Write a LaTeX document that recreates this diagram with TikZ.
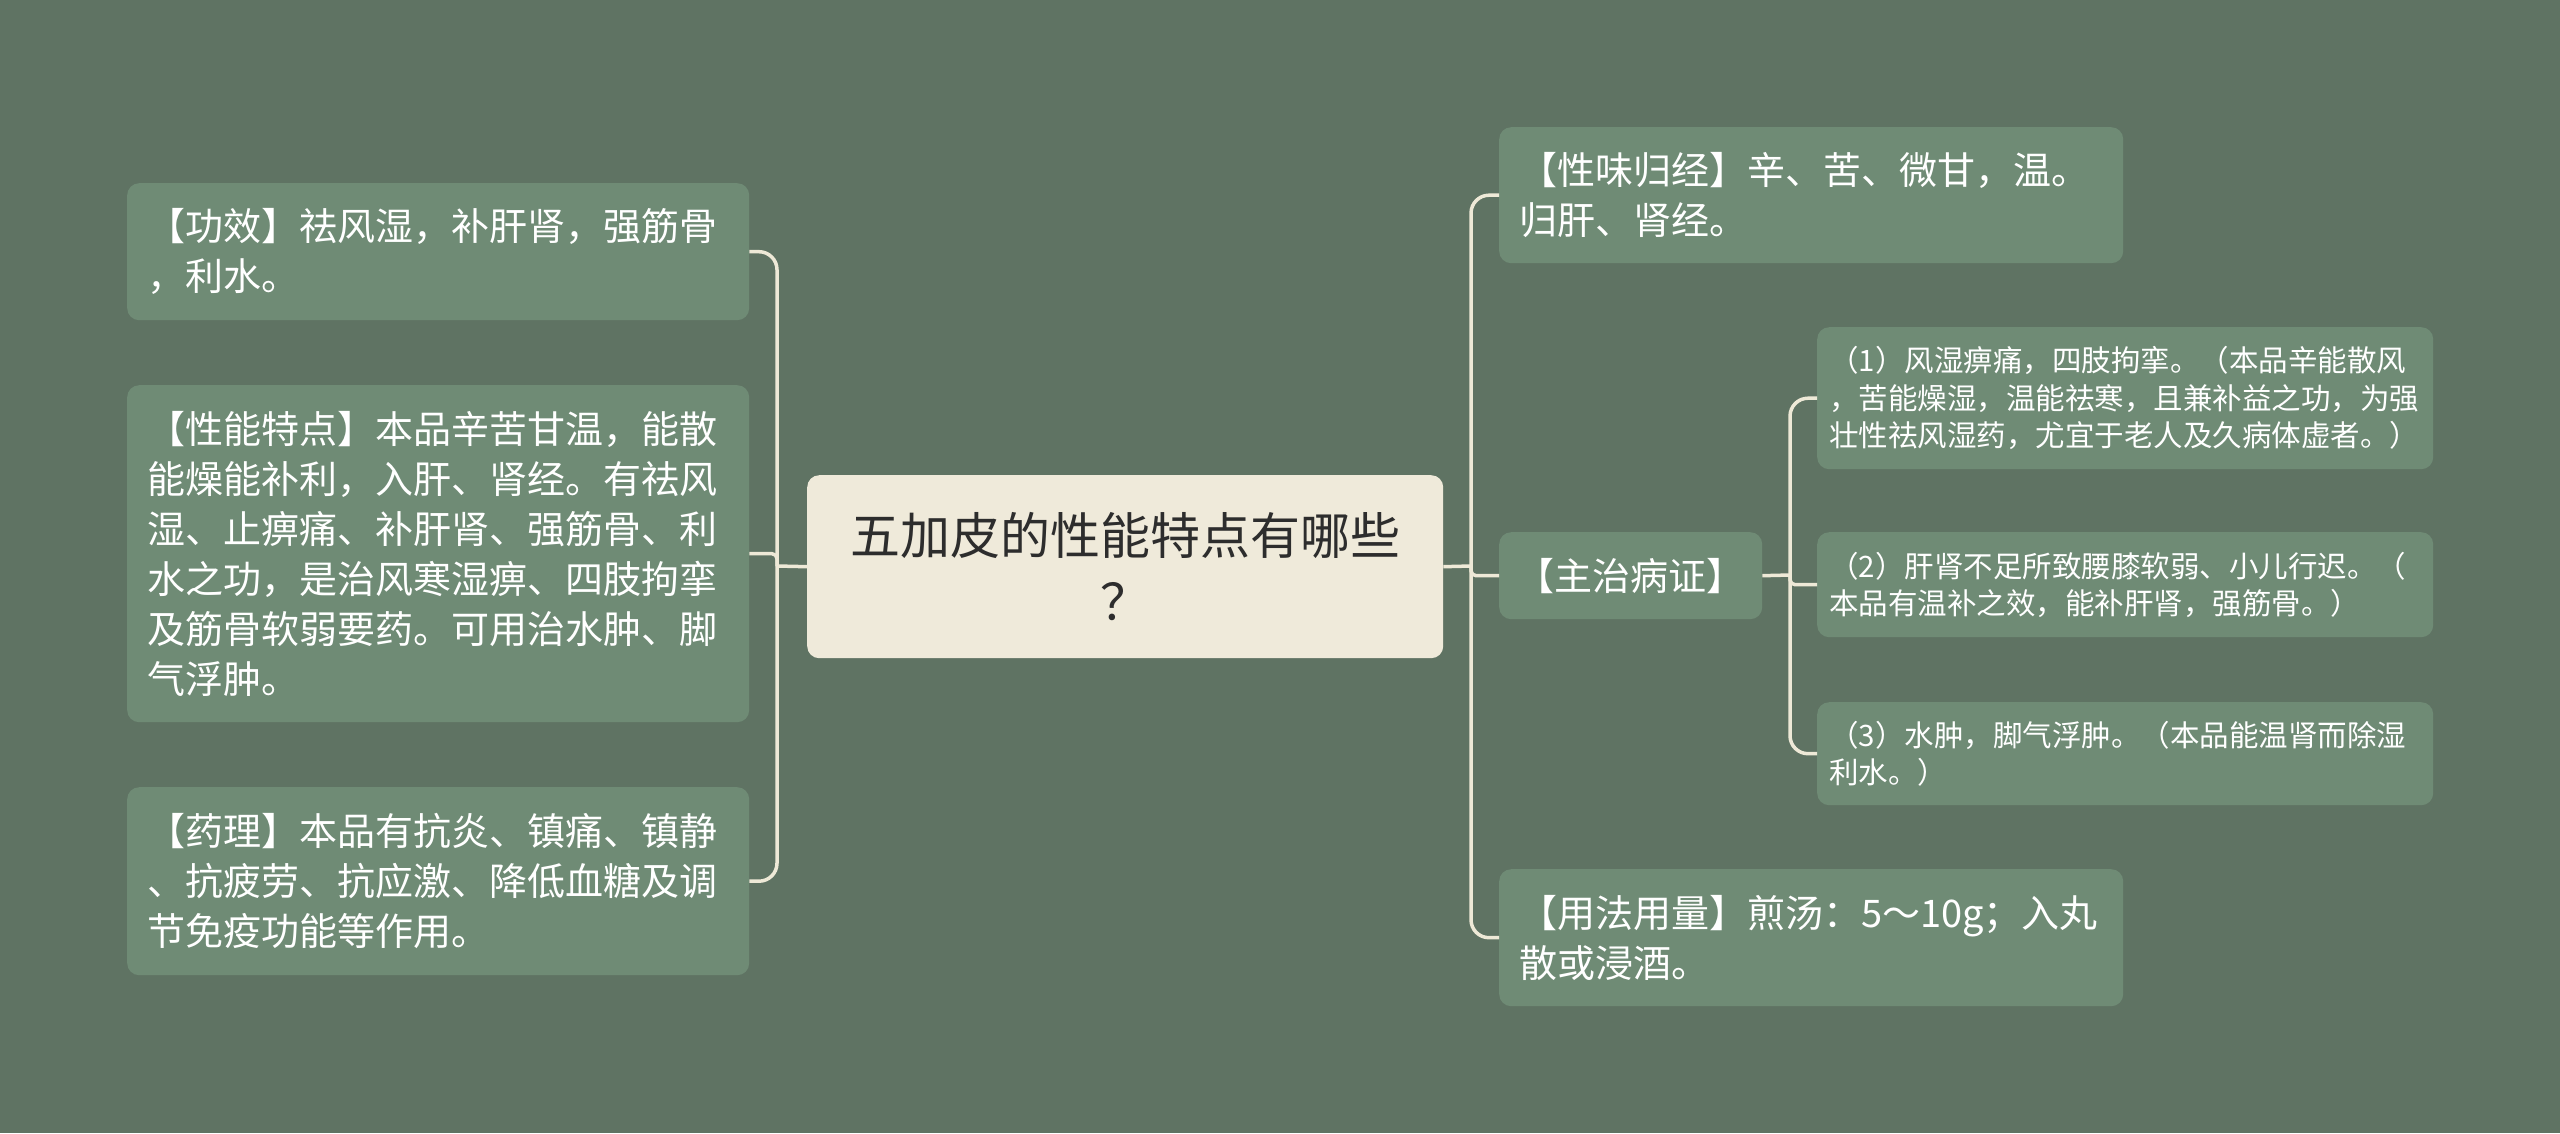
\documentclass[tikz,border=0pt]{standalone}
\usepackage{fontspec}
\setmainfont{Noto Sans CJK SC}
\definecolor{bgc}{RGB}{95,115,99}
\definecolor{leafc}{RGB}{111,139,117}
\definecolor{creamc}{RGB}{239,234,218}
\definecolor{linec}{RGB}{238,233,215}
\definecolor{darktext}{RGB}{45,45,45}
\begin{document}
\begin{tikzpicture}[x=1pt,y=-1pt,
  leaf/.style={fill=leafc, text=white, rounded corners=12pt, anchor=north west,
    inner xsep=20pt, inner ysep=0pt, align=left, font=\fontsize{38}{50}\selectfont},
  smallleaf/.style={leaf, inner xsep=12pt, font=\fontsize{29.5}{37.5}\selectfont},
  rootbox/.style={fill=creamc, text=darktext, rounded corners=12pt, anchor=north west,
    inner xsep=20pt, inner ysep=0pt, align=center, font=\fontsize{50}{66}\selectfont},
  conn/.style={draw=linec, line width=3.5pt, rounded corners=18pt},
  connsm/.style={draw=linec, line width=3.5pt, rounded corners=5pt}]
\useasboundingbox[fill=bgc] (0,0) rectangle (2560,1133);

% root
\node[rootbox, text width=596pt, minimum height=183pt] (root) at (807,475)
  {五加皮的性能特点有哪些\\？};

% left children
\node[leaf, text width=582pt, minimum height=137pt] (gx) at (127,183)
  {【功效】祛风湿，补肝肾，强筋骨\\，利水。};
\node[leaf, text width=582pt, minimum height=337pt] (xn) at (127,385)
  {【性能特点】本品辛苦甘温，能散\\能燥能补利，入肝、肾经。有祛风\\湿、止痹痛、补肝肾、强筋骨、利\\水之功，是治风寒湿痹、四肢拘挛\\及筋骨软弱要药。可用治水肿、脚\\气浮肿。};
\node[leaf, text width=582pt, minimum height=188pt] (yl) at (127,787)
  {【药理】本品有抗炎、镇痛、镇静\\、抗疲劳、抗应激、降低血糖及调\\节免疫功能等作用。};

% right children
\node[leaf, text width=584pt, minimum height=136pt] (xw) at (1499,127)
  {【性味归经】辛、苦、微甘，温。\\归肝、肾经。};
\node[leaf, inner xsep=17pt, text width=229pt, minimum height=87pt] (zz) at (1499,532)
  {【主治病证】};
\node[leaf, text width=584pt, minimum height=137pt] (yf) at (1499,869)
  {【用法用量】煎汤：5～10g；入丸\\散或浸酒。};

% grandchildren
\node[smallleaf, text width=592pt, minimum height=142pt] (z1) at (1817,327)
  {（1）风湿痹痛，四肢拘挛。（本品辛能散风\\，苦能燥湿，温能祛寒，且兼补益之功，为强\\壮性祛风湿药，尤宜于老人及久病体虚者。）};
\node[smallleaf, text width=592pt, minimum height=105pt] (z2) at (1817,532)
  {（2）肝肾不足所致腰膝软弱、小儿行迟。（\\本品有温补之效，能补肝肾，强筋骨。）};
\node[smallleaf, text width=592pt, minimum height=103pt] (z3) at (1817,702)
  {（3）水肿，脚气浮肿。（本品能温肾而除湿\\利水。）};

% connectors
\coordinate (jl) at (777,566);
\coordinate (jr) at (1471,566);
\coordinate (jm) at (1790,575);

\draw[conn] (root.west) -- (jl);
\draw[conn] (jl) |- (gx.east);
\draw[connsm] (jl) |- (xn.east);
\draw[conn] (jl) |- (yl.east);

\draw[conn] (root.east) -- (jr);
\draw[conn] (jr) |- (xw.west);
\draw[connsm] (jr) |- (zz.west);
\draw[conn] (jr) |- (yf.west);

\draw[conn] (zz.east) -- (jm);
\draw[conn] (jm) |- (z1.west);
\draw[connsm] (jm) |- (z2.west);
\draw[conn] (jm) |- (z3.west);
\end{tikzpicture}
\end{document}
